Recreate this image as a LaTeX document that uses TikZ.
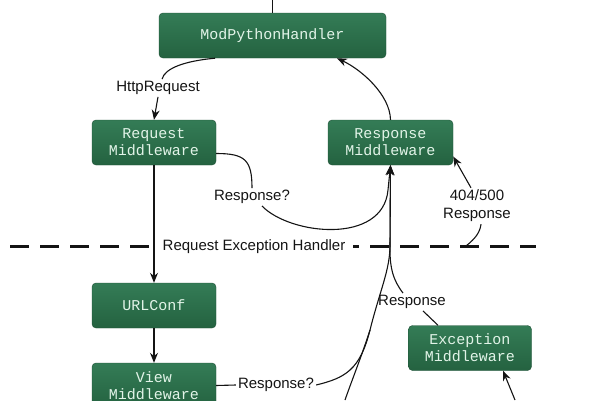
\documentclass[tikz,border=0pt]{standalone}
\usepackage{fontspec}
\setmainfont{Liberation Sans}
\newfontfamily\boxfont{Liberation Mono}
\usetikzlibrary{arrows.meta,calc}
\definecolor{boxtop}{RGB}{52,124,86}
\definecolor{boxbot}{RGB}{36,98,64}
\definecolor{boxedge}{RGB}{30,80,54}
\definecolor{boxtext}{RGB}{226,244,232}
\definecolor{ink}{RGB}{20,20,20}
\begin{document}
\begin{tikzpicture}[x=1pt,y=-1pt,
  mbox/.style={rectangle, rounded corners=4pt, top color=boxtop, bottom color=boxbot, draw=boxedge, line width=0.4pt, text=boxtext, font=\boxfont\fontsize{15}{17}\selectfont, align=center, inner sep=0pt, minimum height=45pt},
  lbl/.style={font=\fontsize{15}{18}\selectfont, text=ink, inner sep=2pt, align=center},
  conn/.style={draw=ink, line width=1.1pt},
  arr/.style={conn, -{Stealth[length=10pt,width=8pt]}},
  dashline/.style={draw=ink, line width=3pt, dash pattern=on 19pt off 11pt},
]
\useasboundingbox (0,0) rectangle (600,400);
% separator
\coordinate (dl) at (10,246);
\coordinate (dr) at (536,246);
\draw[dashline] (dl) -- (dr);
% boxes
\node[mbox, minimum width=227pt] (mph) at (272.5,35.5) {ModPythonHandler};
\node[mbox, minimum width=124pt] (reqmw) at (154,142.5) {Request\\Middleware};
\node[mbox, minimum width=125pt] (respmw) at (390.5,142.5) {Response\\Middleware};
\node[mbox, minimum width=124pt] (urlconf) at (154,305.5) {URLConf};
\node[mbox, minimum width=124pt] (viewmw) at (154,385.5) {View\\Middleware};
\node[mbox, minimum width=123pt] (excmw) at (470,348) {Exception\\Middleware};
% labels
\node[lbl] (http) at (158,88) {HttpRequest};
\node[lbl] (resq1) at (252,197) {Response?};
\node[lbl, fill=white, inner xsep=8pt] (reh) at (254,247) {Request Exception Handler};
\node[lbl] (r404) at (477,206) {404/500\\Response};
\node[lbl] (resp2) at (412,302) {Response};
\node[lbl] (resq2) at (276,385) {Response?};
% connectors
\coordinate (topin) at (272.5,0);
\draw[conn] (topin) -- (mph.north);
\draw[conn] ([xshift=-57.5pt]mph.south) .. controls (185,61) and (165,68) .. ([xshift=4pt]http.north);
\draw[arr] (http.south) -- (reqmw.north);
\draw[arr] (respmw.north) .. controls (390,95) and (362,70) .. ([xshift=64.5pt]mph.south);
\draw[arr] (reqmw.south) -- (urlconf.north);
\draw[arr] (urlconf.south) -- (viewmw.north);
\draw[conn] ([yshift=-11pt]reqmw.east) .. controls (245,153.5) and (252,160) .. (resq1.north);
\draw[arr] ([xshift=10pt]resq1.south) .. controls (290,235) and (383,245) .. (388,190) -- (respmw.south);
\draw[arr] ([xshift=-9pt]resp2.north) .. controls (393,280) and (390,268) .. (390,250) -- (respmw.south);
\draw[conn] ([xshift=-32pt]excmw.north) -- ([xshift=11pt]resp2.south);
\draw[conn] (viewmw.east) -- (resq2.west);
\draw[arr] (resq2.east) .. controls (345,378) and (360,370) .. (370,330) .. controls (380,290) and (390,270) .. (390,245) -- (respmw.south);
\coordinate (botin) at (345,400);
\draw[conn] (botin) .. controls (352,380) and (362,355) .. (370,330);
\coordinate (e404) at (466,246);
\draw[conn] (e404) .. controls (476,238) and (480,232) .. ([xshift=4pt]r404.south);
\draw[arr] ([xshift=-6pt]r404.north) -- ([yshift=-14pt]respmw.east);
\coordinate (excin) at (515,400);
\draw[arr] (excin) -- ([xshift=33pt]excmw.south);
\end{tikzpicture}
\end{document}
